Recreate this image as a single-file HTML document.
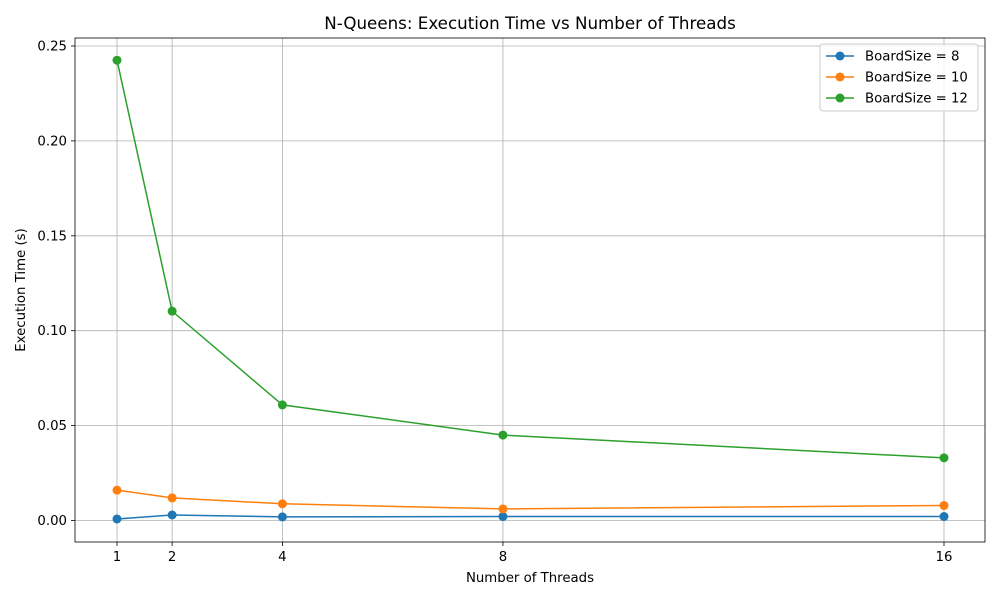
<!DOCTYPE html>
<html><head><meta charset="utf-8"><style>
body{margin:0;background:#fff;font-family:"DejaVu Sans","Liberation Sans",sans-serif;}
svg text{font-family:"DejaVu Sans","Liberation Sans",sans-serif;}
</style></head><body>
<svg id="chart" width="1000" height="600" xmlns="http://www.w3.org/2000/svg"></svg>
<script>
const threads = [1, 2, 4, 8, 16];
const board8 = [0.0008, 0.0029, 0.0019, 0.0021, 0.0021];
const board10 = [0.0160, 0.0119, 0.0088, 0.0061, 0.0079];
const board12 = [0.2425, 0.1103, 0.0609, 0.0450, 0.0330];
const yTicks = [0, 0.05, 0.10, 0.15, 0.20, 0.25];
const yTickLabels = ["0.00", "0.05", "0.10", "0.15", "0.20", "0.25"];
const seriesNames = ["BoardSize = 8", "BoardSize = 10", "BoardSize = 12"];

const NS = "http://www.w3.org/2000/svg";
const svg = document.getElementById("chart");
const L = 75, R = 985, T = 38, B = 542;
const FS = 13.3;
function xs(v){ return 117 + (v - 1) * (827 / 15); }
function ys(v){ return 520.5 - v * 1898; }
function mk(tag, attrs, parent){
  const e = document.createElementNS(NS, tag);
  for (const k in attrs) e.setAttribute(k, attrs[k]);
  (parent || svg).appendChild(e);
  return e;
}
threads.forEach((t, i) => {
  const g = mk("line", {x1: xs(t), x2: xs(t), y1: T, y2: B, stroke: "#b0b0b0", "stroke-width": 0.8});
  
  
  const tk = mk("line", {x1: xs(t), x2: xs(t), y1: B, y2: B + 4, stroke: "#000", "stroke-width": 0.8});
  
  
  const lb = mk("text", {x: xs(t), y: B + 19, "text-anchor": "middle", "font-size": FS});
  lb.textContent = t;
  
  
});
yTicks.forEach((v, i) => {
  const g = mk("line", {x1: L, x2: R, y1: ys(v), y2: ys(v), stroke: "#b0b0b0", "stroke-width": 0.8});
  
  
  const tk = mk("line", {x1: L - 4, x2: L, y1: ys(v), y2: ys(v), stroke: "#000", "stroke-width": 0.8});
  
  
  const lb = mk("text", {x: L - 8, y: ys(v) + 4.5, "text-anchor": "end", "font-size": FS});
  lb.textContent = yTickLabels[i];
  
  
});
const frame = mk("rect", {x: L, y: T, width: R - L, height: B - T, fill: "none", stroke: "#000", "stroke-width": 0.8});



const colors = ["#1f77b4", "#ff7f0e", "#2ca02c"];
[board8, board10, board12].forEach((vals, si) => {
  const pts = vals.map((v, i) => xs(threads[i]) + "," + ys(v)).join(" ");
  const pl = mk("polyline", {points: pts, fill: "none", stroke: colors[si], "stroke-width": 1.5});
  
  
  vals.forEach((v, i) => {
    const c = mk("circle", {cx: xs(threads[i]), cy: ys(v), r: 4.5, fill: colors[si]});
    
    
  });
});

const title = mk("text", {x: 530, y: 29, "text-anchor": "middle", "font-size": 16.7});
title.textContent = "N-Queens: Execution Time vs Number of Threads";


const xt = mk("text", {x: 530, y: 582, "text-anchor": "middle", "font-size": FS});
xt.textContent = "Number of Threads";


const yt = mk("text", {x: 25, y: 290, "text-anchor": "middle", "font-size": FS, transform: "rotate(-90 25 290)"});
yt.textContent = "Execution Time (s)";



const lg = mk("g", {});


mk("rect", {x: 820, y: 44, width: 158, height: 67, rx: 3, fill: "#fff", "fill-opacity": 0.8, stroke: "#ccc"}, lg);
seriesNames.forEach((n, i) => {
  const y = 56 + i * 21;
  const ln = mk("line", {x1: 826, x2: 854, y1: y, y2: y, stroke: colors[i], "stroke-width": 1.5}, lg);
  
  
  mk("circle", {cx: 840, cy: y, r: 4.5, fill: colors[i]}, lg);
  const t = mk("text", {x: 865, y: y + 4.5, "font-size": FS}, lg);
  t.textContent = n;
  
  
});
</script>
</body></html>
